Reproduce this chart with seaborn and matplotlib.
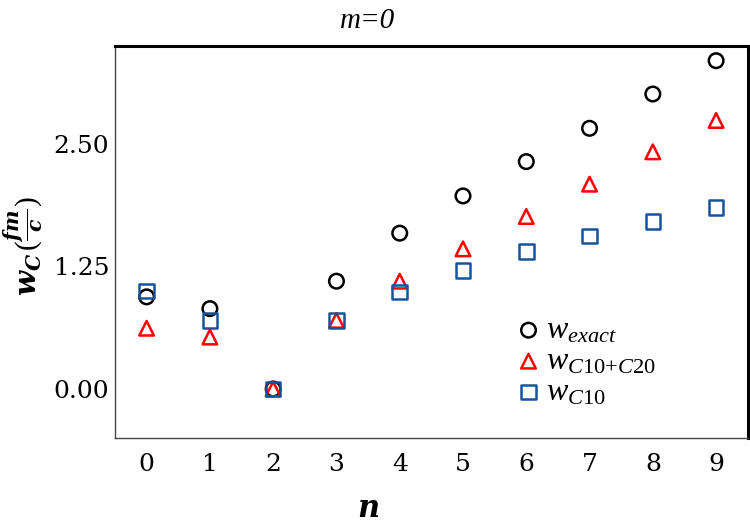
import numpy as np
import pandas as pd
import seaborn as sns
import matplotlib.pyplot as plt
from matplotlib.ticker import MultipleLocator

# -------------------------------
# Dados
# -------------------------------
n_vals = [0, 1, 2, 3, 4, 5, 6, 7, 8, 9]
w_exact = [0.94, 0.82, 0.00, 1.10, 1.59, 1.97, 2.32, 2.66, 3.01, 3.35]
w_c10_c20 = [0.62, 0.53, 0.00, 0.70, 1.10, 1.43, 1.76, 2.09, 2.42, 2.74]
w_c10 = [1.00, 0.70, 0.00, 0.70, 0.99, 1.21, 1.40, 1.56, 1.71, 1.85]

series_labels = [r'$w_{exact}$', r'$w_{C10{+}C20}$', r'$w_{C10}$']
series_colors = ['black', '#ff0000', '#17529c']
series_markers = ['o', '^', 's']

df = pd.DataFrame({
    'n': n_vals * 3,
    'w': w_exact + w_c10_c20 + w_c10,
    'serie': sum([[lab] * len(n_vals) for lab in series_labels], []),
})

# -------------------------------
# Estilo
# -------------------------------
sns.set_style('white')
plt.rcParams['font.family'] = ['DejaVu Serif']
plt.rcParams['text.color'] = 'black'
plt.rcParams['axes.labelcolor'] = 'black'
plt.rcParams['xtick.labelcolor'] = 'black'
plt.rcParams['ytick.labelcolor'] = 'black'
plt.rcParams['mathtext.fontset'] = 'custom'
plt.rcParams['mathtext.rm'] = 'Liberation Serif'
plt.rcParams['mathtext.it'] = 'Liberation Serif:italic'
plt.rcParams['mathtext.bfit'] = 'DejaVu Serif:italic:bold'

fig = plt.figure(figsize=(7.5, 5.28), dpi=100)
ax = fig.add_axes([0.1533, 0.1705, 0.8437, 0.7424])

for lab, col, mk in zip(series_labels, series_colors, series_markers):
    sub = df[df['serie'] == lab]
    sns.scatterplot(data=sub, x='n', y='w', marker=mk, s=110,
                    facecolor='none', edgecolor=col, linewidth=1.8,
                    label=lab, ax=ax, zorder=3)

ax.set_xlim(-0.5, 9.5)
ax.set_ylim(-0.5, 3.5)
ax.set_xticks(n_vals)
ax.set_yticks([0, 1.25, 2.5])
ax.set_yticklabels(['0.00', '1.25', '2.50'])
ax.xaxis.set_minor_locator(MultipleLocator(0.5))
ax.yaxis.set_minor_locator(MultipleLocator(0.3125))

ax.tick_params(axis='both', which='major', direction='in', length=11.5,
               width=1, color='#555555', labelsize=18, labelcolor='black')
ax.tick_params(axis='both', which='minor', direction='in', length=4.5,
               width=1, color='#555555')
ax.tick_params(axis='x', which='major', pad=11)
ax.tick_params(axis='y', which='major', pad=4)
ax.tick_params(top=False, right=False, which='both')

for side in ['left', 'bottom']:
    ax.spines[side].set_color('#444444')
    ax.spines[side].set_linewidth(1.0)
for side in ['top', 'right']:
    ax.spines[side].set_color('black')
    ax.spines[side].set_linewidth(2.2)

ax.set_xlabel(r'$\mathbfit{n}$', fontsize=22)
ax.set_ylabel(r'$\mathbfit{w_C}\,(\frac{\mathbfit{fm}}{\mathbfit{c}})$', fontsize=21)
ax.xaxis.set_label_coords(0.40, -0.14)
ax.yaxis.set_label_coords(-0.11, 0.49)

fig.suptitle('m=0', x=0.49, y=0.985, fontsize=21, fontstyle='italic',
             family='Liberation Serif', color='black')

leg = ax.legend(loc='lower right', bbox_to_anchor=(0.875, 0.045), frameon=False,
                fontsize=23, handletextpad=0.05, labelspacing=0.0,
                borderaxespad=0, handlelength=1.0)

plt.savefig('out.png', dpi=100)
